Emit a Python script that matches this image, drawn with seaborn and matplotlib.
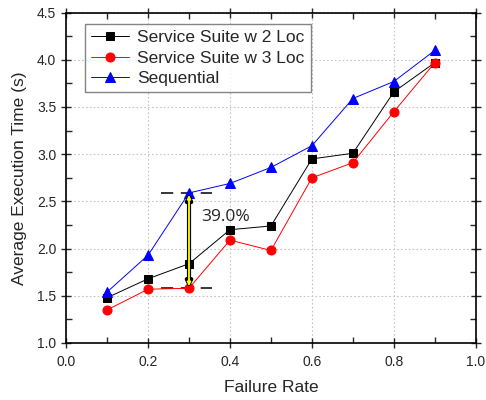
import numpy as np
import pandas as pd
import seaborn as sns
import matplotlib.pyplot as plt
from matplotlib.ticker import MultipleLocator

failure_rate = [0.1, 0.2, 0.3, 0.4, 0.5, 0.6, 0.7, 0.8, 0.9]
suite_2loc = [1.48, 1.68, 1.84, 2.20, 2.24, 2.95, 3.01, 3.66, 3.97]
suite_3loc = [1.35, 1.57, 1.58, 2.09, 1.98, 2.75, 2.91, 3.45, 3.97]
sequential = [1.54, 1.93, 2.59, 2.69, 2.86, 3.09, 3.59, 3.77, 4.10]
gap_label = '39.0%'

sns.set_style('white')
plt.rcParams['font.family'] = ['Liberation Sans', 'DejaVu Sans']

fig = plt.figure(figsize=(4.86, 4.0), dpi=100)
ax = fig.add_axes([0.136, 0.1425, 0.843, 0.826])

series = [
    ('Service Suite w 2 Loc', suite_2loc, 'black', 's', 6),
    ('Service Suite w 3 Loc', suite_3loc, 'red', 'o', 6.5),
    ('Sequential', sequential, 'blue', '^', 7),
]
for name, vals, col, mk, ms in series:
    df = pd.DataFrame({'x': failure_rate, 'y': vals})
    sns.lineplot(data=df, x='x', y='y', ax=ax, color=col, lw=0.7,
                 marker=mk, markersize=ms, markeredgecolor=col,
                 label=name, zorder=3)

# gap annotation at 0.3
i = failure_rate.index(0.3)
top, bot = sequential[i], suite_3loc[i]
for yv in (top, bot):
    ax.plot([0.232, 0.355], [yv, yv], color='black', lw=1.1,
            dashes=(8, 5), zorder=2)
ax.annotate('', xy=(0.3, bot), xytext=(0.3, top),
            arrowprops=dict(arrowstyle='<|-|>', color='black', lw=3.0,
                            shrinkA=0, shrinkB=0, mutation_scale=8),
            zorder=4)
ax.annotate('', xy=(0.3, bot), xytext=(0.3, top),
            arrowprops=dict(arrowstyle='<|-|>', color='yellow', lw=1.3,
                            shrinkA=1.5, shrinkB=1.5, mutation_scale=5),
            zorder=5)
ax.text(0.33, 2.33, gap_label, fontsize=12.5, family=['Open Sans', 'DejaVu Sans'],
        va='center', ha='left', zorder=6)

ax.set_xlim(0, 1.0)
ax.set_ylim(1.0, 4.5)
ax.xaxis.set_major_locator(MultipleLocator(0.2))
ax.xaxis.set_minor_locator(MultipleLocator(0.1))
ax.yaxis.set_major_locator(MultipleLocator(0.5))
ax.yaxis.set_minor_locator(MultipleLocator(0.25))
ax.grid(True, which='major', color='#c4c4c4', ls=(0, (1.5, 2)), lw=0.8)
ax.set_axisbelow(True)

for s in ax.spines.values():
    s.set_color('black')
    s.set_linewidth(1.2)
ax.tick_params(which='major', direction='inout', length=7, width=1.0,
               labelsize=10, top=True, right=True, bottom=True, left=True)
ax.tick_params(which='minor', direction='in', length=4, width=1.0,
               top=True, right=True, bottom=True, left=True)
ax.tick_params(axis='x', which='major', pad=5)

ax.set_xlabel('Failure Rate', fontsize=12.5, labelpad=8)
ax.set_ylabel('Average Execution Time (s)', fontsize=12.5, labelpad=7)
ax.xaxis.set_major_formatter(plt.FuncFormatter(lambda v, p: f'{v:.1f}'))
ax.yaxis.set_major_formatter(plt.FuncFormatter(lambda v, p: f'{v:.1f}'))

leg = ax.legend(loc='upper left', bbox_to_anchor=(0.045, 0.965), fontsize=12.5,
                frameon=True, fancybox=False, edgecolor='#666666',
                handlelength=2.2, borderpad=0.35, labelspacing=0.3,
                handletextpad=0.5, borderaxespad=0)
leg.get_frame().set_linewidth(1.0)

fig.savefig('out.png', dpi=100)
